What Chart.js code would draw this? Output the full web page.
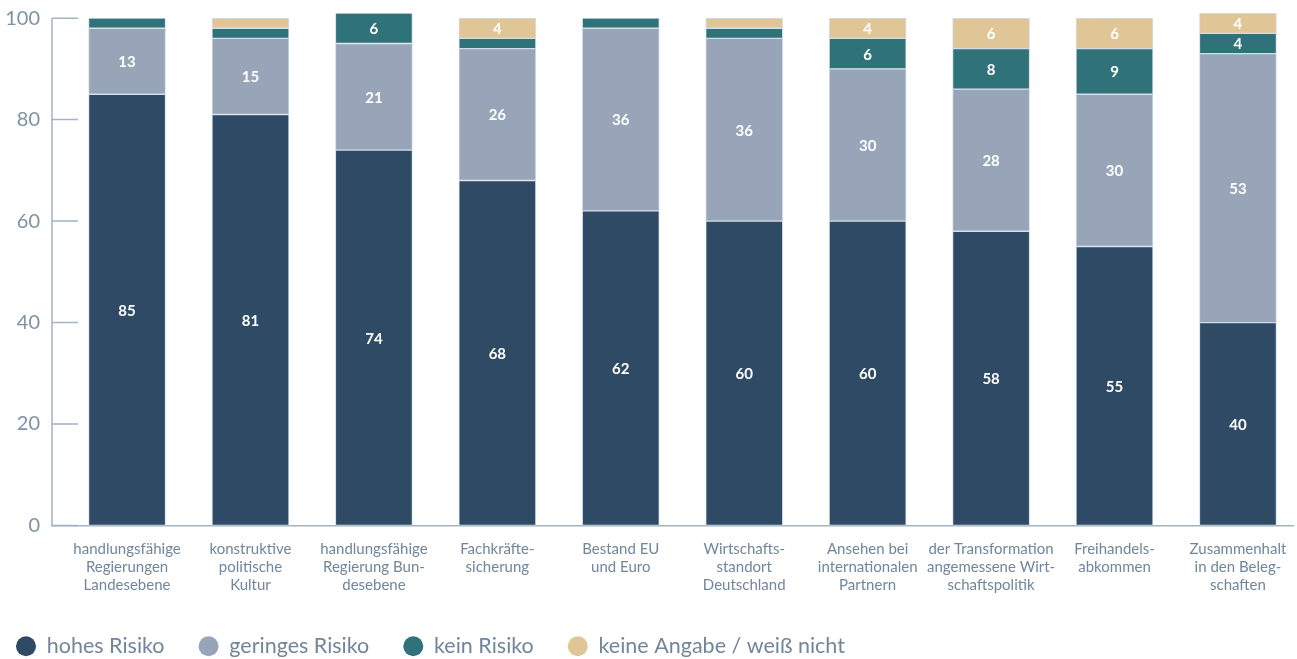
<!DOCTYPE html>
<html>
<head>
<meta charset="utf-8">
<script src="https://cdn.jsdelivr.net/npm/chart.js@4/dist/chart.umd.min.js"></script>
<style>
  html, body { margin: 0; padding: 0; background: #ffffff; overflow: hidden; }
  #wrap { position: relative; width: 1297px; height: 659px; }
</style>
</head>
<body>
<div id="wrap"><canvas id="c"></canvas></div>
<script>
const categories = [
  ["handlungsfähige", "Regierungen", "Landesebene"],
  ["konstruktive", "politische", "Kultur"],
  ["handlungsfähige", "Regierung Bun-", "desebene"],
  ["Fachkräfte-", "sicherung"],
  ["Bestand EU", "und Euro"],
  ["Wirtschafts-", "standort", "Deutschland"],
  ["Ansehen bei", "internationalen", "Partnern"],
  ["der Transformation", "angemessene Wirt-", "schaftspolitik"],
  ["Freihandels-", "abkommen"],
  ["Zusammenhalt", "in den Beleg-", "schaften"]
];
const seriesNames = ["hohes Risiko", "geringes Risiko", "kein Risiko", "keine Angabe / weiß nicht"];
const hohesRisiko    = [85, 81, 74, 68, 62, 60, 60, 58, 55, 40];
const geringesRisiko = [13, 15, 21, 26, 36, 36, 30, 28, 30, 53];
const keinRisiko     = [2, 2, 6, 2, 2, 2, 6, 8, 9, 4];
const keineAngabe    = [0, 2, 0, 4, 0, 2, 4, 6, 6, 4];
const yTicks = [0, 20, 40, 60, 80, 100];

const colors = ["#2e4a64", "#98a5b8", "#30727a", "#e0c697"];
const textColor = "#71869b";
const axisColor = "#a3b3c2";
const FONT = "Lato, 'Noto Sans', sans-serif";

const seriesValues = [hohesRisiko, geringesRisiko, keinRisiko, keineAngabe];
const datasets = seriesValues.map((vals, s) => ({
  label: seriesNames[s],
  data: vals.map((v, i) => ({ x: i, y: v })),
  backgroundColor: colors[s],
  borderColor: "rgba(210,220,230,0.9)",
  borderWidth: 1,
  barThickness: 77,
  borderSkipped: false
}));

const segLabels = {
  id: "segLabels",
  afterDatasetsDraw(chart) {
    const ctx = chart.ctx;
    ctx.save();
    ctx.font = "bold 15px " + FONT;
    ctx.fillStyle = "#ffffff";
    ctx.textAlign = "center";
    ctx.textBaseline = "middle";
    chart.data.datasets.forEach((ds, di) => {
      const meta = chart.getDatasetMeta(di);
      meta.data.forEach((el, i) => {
        const v = seriesValues[di][i];
        if (v >= 4) {
          ctx.fillText(String(v), el.x, (el.y + el.base) / 2 + 1);
        }
      });
    });
    ctx.restore();
  }
};

const yAxisDeco = {
  id: "yAxisDeco",
  afterDraw(chart) {
    const ctx = chart.ctx;
    const y = chart.scales.y;
    const left = chart.chartArea.left;
    ctx.save();
    ctx.strokeStyle = axisColor;
    ctx.lineWidth = 1.5;
    ctx.beginPath();
    ctx.moveTo(left, y.getPixelForValue(100));
    ctx.lineTo(left, y.getPixelForValue(0));
    yTicks.forEach(t => {
      const py = y.getPixelForValue(t);
      ctx.moveTo(left, py);
      ctx.lineTo(left + 26, py);
    });
    ctx.stroke();
    ctx.restore();
  }
};

new Chart(document.getElementById("c"), {
  type: "bar",
  data: { datasets },
  plugins: [segLabels, yAxisDeco],
  options: {
    responsive: true,
    maintainAspectRatio: false,
    animation: false,
    layout: { padding: { top: 8, right: 4, left: -18, bottom: -8 } },
    plugins: {
      tooltip: { enabled: false },
      legend: {
        position: "bottom",
        align: "start",
        labels: {
          usePointStyle: true,
          pointStyle: "circle",
          pointStyleWidth: 20,
          boxWidth: 20,
          boxHeight: 14,
          padding: 34,
          color: textColor,
          font: { family: FONT, size: 21.5 },
          generateLabels(chart) {
            const items = Chart.defaults.plugins.legend.labels.generateLabels(chart);
            items.forEach(it => { it.lineWidth = 0; it.strokeStyle = it.fillStyle; });
            return items;
          }
        }
      }
    },
    scales: {
      x: {
        type: "linear",
        stacked: true,
        offset: false,
        min: -0.608,
        max: 9.446,
        grid: { display: false, drawTicks: false, offset: false },
        border: { display: true, color: axisColor, width: 1.5 },
        afterFit(scale) { scale.height = 76; scale.paddingLeft = 0; scale.paddingRight = 0; },
        ticks: {
          stepSize: 1,
          autoSkip: false,
          includeBounds: false,
          maxRotation: 0,
          minRotation: 0,
          padding: 14,
          color: textColor,
          font: { family: FONT, size: 15, lineHeight: 1.23 },
          callback(v) {
            return Number.isInteger(v) && categories[v] ? categories[v] : "";
          }
        }
      },
      y: {
        stacked: true,
        min: 0,
        max: 102,
        grid: { display: false, drawTicks: false },
        border: { display: false },
        afterFit(scale) { scale.width = 70; scale.paddingTop = 0; scale.paddingBottom = 0; },
        afterBuildTicks(scale) { scale.ticks = yTicks.map(v => ({ value: v })); },
        ticks: {
          padding: 12,
          color: "#7d92a7",
          font: { family: FONT, size: 20 }
        }
      }
    }
  }
});
</script>
</body>
</html>
